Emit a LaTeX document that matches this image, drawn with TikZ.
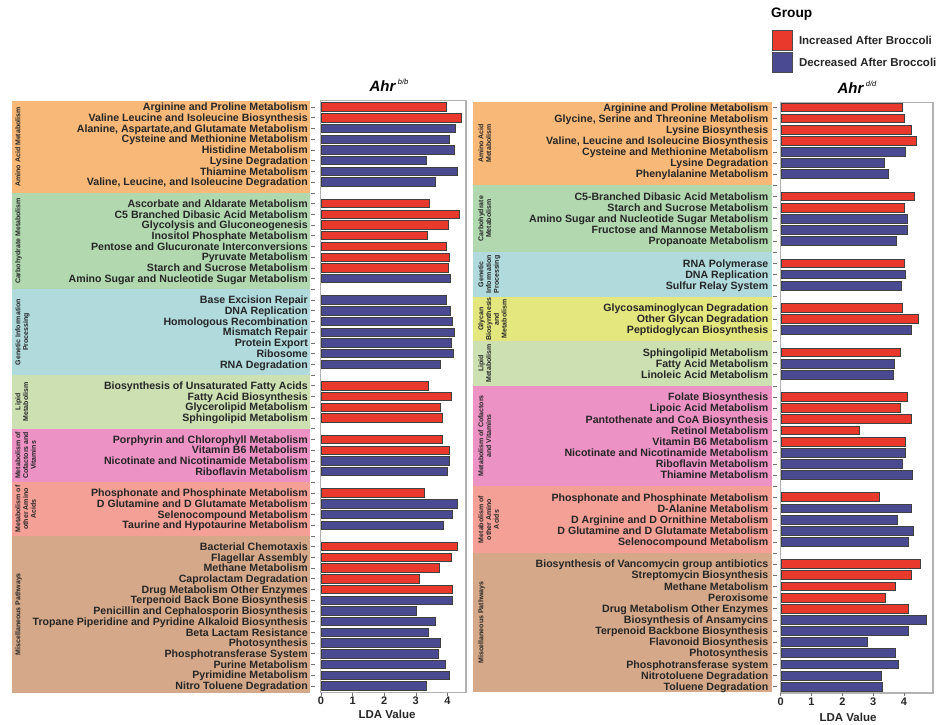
\documentclass[tikz,border=0pt]{standalone}
\usepackage{fontspec}
\setmainfont{Liberation Sans}
\usepackage{xcolor}
\usetikzlibrary{positioning}
\definecolor{incr}{HTML}{E8392C}
\definecolor{decr}{HTML}{4A4A92}
\definecolor{aminoC}{HTML}{F8B878}
\definecolor{carbC}{HTML}{B2D8B0}
\definecolor{geneC}{HTML}{B0DADC}
\definecolor{glycC}{HTML}{E4E67E}
\definecolor{lipidC}{HTML}{CCE0B2}
\definecolor{cofC}{HTML}{EC92C4}
\definecolor{otherC}{HTML}{F4A096}
\definecolor{miscC}{HTML}{D4A888}
\begin{document}
\begin{tikzpicture}[
  x=1pt,y=-1pt,
  every node/.style={inner sep=0pt},
  pathLabel/.style={anchor=base east,font=\bfseries\fontsize{10.6}{11}\selectfont,text=black!85},
  catLabel/.style={rotate=90,anchor=north,align=center,font=\bfseries\fontsize{7}{7.8}\selectfont,text=black!85},
  ldaBar/.style={draw=black!75,line width=0.7pt},
  plotFrame/.style={draw=black!30,line width=1.2pt},
  axisTick/.style={draw=black!55,line width=0.5pt},
  tickLabel/.style={anchor=base,font=\bfseries\fontsize{11}{11}\selectfont,text=black!85},
  axisTitle/.style={anchor=base,font=\bfseries\fontsize{11.5}{12}\selectfont,text=black!85},
  panelTitle/.style={anchor=base,font=\bfseries\itshape\fontsize{15}{15}\selectfont},
  legendBox/.style={draw=black!70,line width=0.8pt,minimum width=20,minimum height=19.5}]

  \useasboundingbox (0,0) rectangle (941,724);

  % legend
  \node[anchor=base west,font=\bfseries\fontsize{13.7}{14}\selectfont] (grp) at (771,17.3) {Group};
  \node[legendBox,fill=incr,anchor=north west] (swInc) at (772,30) {};
  \node[legendBox,fill=decr,anchor=north west] (swDec) at (772,52) {};
  \node[right=6pt of swInc,font=\bfseries\fontsize{11.5}{12}\selectfont,text=black!85] (lgInc) {Increased After Broccoli};
  \node[right=6pt of swDec,font=\bfseries\fontsize{11.5}{12}\selectfont,text=black!85] (lgDec) {Decreased After Broccoli};

  % left panel: category bands
  \foreach \a/\b/\col/\n/\txt in {101/192.8/aminoC/1/Amino Acid Metabolism,
      192.8/289.2/carbC/2/Carbohydrate Metabolism,
      289.2/375/geneC/3/{Genetic Information\\Processing},
      375/428.6/lipidC/4/{Lipid\\Metabolism},
      428.6/482.2/cofC/5/{Metabolism of\\Cofactors and\\Vitamins},
      482.2/535.8/otherC/6/{Metabolism of\\other Amino\\Acids},
      535.8/692.5/miscC/7/Miscellaneous Pathways}{
    \fill[fill=\col] (12,\a) rectangle (310,\b);
    \node[catLabel] (lc\n) at (15,{(\a+\b)/2}) {\txt};
  }
  \node[panelTitle] (ttlL) at (389,91) {Ahr\,\raisebox{6.5pt}{\fontsize{7.5}{8}\selectfont\mdseries\itshape b/b}};
  \draw[plotFrame] (320.5,100.5) rectangle (466,692.7);
  \foreach \r in {0,...,54}
    \draw[axisTick] (311,{107+\r*10.72}) -- (315,{107+\r*10.72});

  % left panel: bars
  \foreach \r/\v/\c/\t in {0/3.96/incr/Arginine and Proline Metabolism,
      1/4.43/incr/Valine Leucine and Isoleucine Biosynthesis,
      2/4.25/decr/{Alanine, Aspartate,and Glutamate Metabolism},
      3/4.07/decr/Cysteine and Methionine Metabolism,
      4/4.21/decr/Histidine Metabolism,
      5/3.34/decr/Lysine Degradation,
      6/4.30/decr/Thiamine Metabolism,
      7/3.62/decr/{Valine, Leucine, and Isoleucine Degradation},
      9/3.44/incr/Ascorbate and Aldarate Metabolism,
      10/4.38/incr/C5 Branched Dibasic Acid Metabolism,
      11/4.04/incr/Glycolysis and Gluconeogenesis,
      12/3.36/incr/Inositol Phosphate Metabolism,
      13/3.96/incr/Pentose and Glucuronate Interconversions,
      14/4.06/incr/Pyruvate Metabolism,
      15/4.04/incr/Starch and Sucrose Metabolism,
      16/4.10/decr/Amino Sugar and Nucleotide Sugar Metabolism,
      18/3.96/decr/Base Excision Repair,
      19/4.08/decr/DNA Replication,
      20/4.17/decr/Homologous Recombination,
      21/4.21/decr/Mismatch Repair,
      22/4.14/decr/Protein Export,
      23/4.19/decr/Ribosome,
      24/3.77/decr/RNA Degradation,
      26/3.41/incr/Biosynthesis of Unsaturated Fatty Acids,
      27/4.14/incr/Fatty Acid Biosynthesis,
      28/3.77/incr/Glycerolipid Metabolism,
      29/3.85/incr/Sphingolipid Metabolism,
      31/3.84/incr/Porphyrin and Chlorophyll Metabolism,
      32/4.06/incr/Vitamin B6 Metabolism,
      33/4.06/decr/Nicotinate and Nicotinamide Metabolism,
      34/4.01/decr/Riboflavin Metabolism,
      36/3.26/incr/Phosphonate and Phosphinate Metabolism,
      37/4.32/decr/D Glutamine and D Glutamate Metabolism,
      38/4.16/decr/Selenocompound Metabolism,
      39/3.88/decr/Taurine and Hypotaurine Metabolism,
      41/4.31/incr/Bacterial Chemotaxis,
      42/4.14/incr/Flagellar Assembly,
      43/3.76/incr/Methane Metabolism,
      44/3.12/incr/Caprolactam Degradation,
      45/4.16/incr/Drug Metabolism Other Enzymes,
      46/4.17/decr/Terpenoid Back Bone Biosynthesis,
      47/3.03/decr/Penicillin and Cephalosporin Biosynthesis,
      48/3.61/decr/Tropane Piperidine and Pyridine Alkaloid Biosynthesis,
      49/3.41/decr/Beta Lactam Resistance,
      50/3.79/decr/Photosynthesis,
      51/3.71/decr/Phosphotransferase System,
      52/3.92/decr/Purine Metabolism,
      53/4.06/decr/Pyrimidine Metabolism,
      54/3.32/decr/Nitro Toluene Degradation}{
    \pgfmathsetmacro\yy{107+\r*10.72}
    \node[pathLabel] (lp\r) at (308,\yy+3.8) {\t};
    \draw[ldaBar,fill=\c] (321.5,\yy-4.2) rectangle ({321+\v*31.6},\yy+4.2);
  }
  \foreach \k in {0,...,4}{
    \draw[axisTick] ({321+\k*31.6},692.7) -- ++(0,3);
    \node[tickLabel] (lx\k) at ({321+\k*31.6},704.5) {\k};
  }
  \node[axisTitle] (ldaL) at (387,718) {LDA Value};

  % right panel: category bands
  \foreach \a/\b/\col/\n/\txt in {101.7/185.3/aminoC/1/{Amino Acid\\Metabolism},
      185.3/252.1/carbC/2/{Carbohydrate\\Metabolism},
      252.1/296.7/geneC/3/{Genetic\\Information\\Processing},
      296.7/341.2/glycC/4/{Glycan\\Biosynthesis\\and\\Metabolism},
      341.2/385.8/lipidC/5/{Lipid\\Metabolism},
      385.8/486.1/cofC/6/{Metabolism of Cofactors\\and Vitamins},
      486.1/552.9/otherC/7/{Metabolism of\\other Amino\\Acids},
      552.9/692.3/miscC/8/Miscellaneous Pathways}{
    \fill[fill=\col] (473,\a) rectangle (771.7,\b);
    \node[catLabel] (rc\n) at (478,{(\a+\b)/2}) {\txt};
  }
  \node[panelTitle] (ttlR) at (857,93) {Ahr\,\raisebox{6.5pt}{\fontsize{7.5}{8}\selectfont\mdseries\itshape d/d}};
  \draw[plotFrame] (780.2,102.2) rectangle (933,693);
  \foreach \r in {0,...,52}
    \draw[axisTick] (773,{107.3+\r*11.14}) -- (777,{107.3+\r*11.14});

  % right panel: bars
  \foreach \r/\v/\c/\t in {0/3.95/incr/Arginine and Proline Metabolism,
      1/4.01/incr/{Glycine, Serine and Threonine Metabolism},
      2/4.24/incr/Lysine Biosynthesis,
      3/4.41/incr/{Valine, Leucine and Isoleucine Biosynthesis},
      4/4.06/decr/Cysteine and Methionine Metabolism,
      5/3.35/decr/Lysine Degradation,
      6/3.51/decr/Phenylalanine Metabolism,
      8/4.35/incr/C5-Branched Dibasic Acid Metabolism,
      9/4.03/incr/Starch and Sucrose Metabolism,
      10/4.10/decr/Amino Sugar and Nucleotide Sugar Metabolism,
      11/4.10/decr/Fructose and Mannose Metabolism,
      12/3.74/decr/Propanoate Metabolism,
      14/4.00/incr/RNA Polymerase,
      15/4.06/decr/DNA Replication,
      16/3.91/decr/Sulfur Relay System,
      18/3.96/incr/Glycosaminoglycan Degradation,
      19/4.48/incr/Other Glycan Degradation,
      20/4.25/decr/Peptidoglycan Biosynthesis,
      22/3.88/incr/Sphingolipid Metabolism,
      23/3.69/decr/Fatty Acid Metabolism,
      24/3.65/decr/Linoleic Acid Metabolism,
      26/4.12/incr/Folate Biosynthesis,
      27/3.90/incr/Lipoic Acid Metabolism,
      28/4.23/incr/Pantothenate and CoA Biosynthesis,
      29/2.55/incr/Retinol Metabolism,
      30/4.05/incr/Vitamin B6 Metabolism,
      31/4.04/decr/Nicotinate and Nicotinamide Metabolism,
      32/3.96/decr/Riboflavin Metabolism,
      33/4.29/decr/Thiamine Metabolism,
      35/3.21/incr/Phosphonate and Phosphinate Metabolism,
      36/4.23/decr/D-Alanine Metabolism,
      37/3.80/decr/D Arginine and D Ornithine Metabolism,
      38/4.31/decr/D Glutamine and D Glutamate Metabolism,
      39/4.14/decr/Selenocompound Metabolism,
      41/4.52/incr/Biosynthesis of Vancomycin group antibiotics,
      42/4.24/incr/Streptomycin Biosynthesis,
      43/3.73/incr/Methane Metabolism,
      44/3.41/incr/Peroxisome,
      45/4.14/incr/Drug Metabolism Other Enzymes,
      46/4.72/decr/Biosynthesis of Ansamycins,
      47/4.15/decr/Terpenoid Backbone Biosynthesis,
      48/2.81/decr/Flavonoid Biosynthesis,
      49/3.73/decr/Photosynthesis,
      50/3.81/decr/Phosphotransferase system,
      51/3.28/decr/Nitrotoluene Degradation,
      52/3.31/decr/Toluene Degradation}{
    \pgfmathsetmacro\yy{107.3+\r*11.14}
    \node[pathLabel] (rp\r) at (768.5,\yy+3.8) {\t};
    \draw[ldaBar,fill=\c] (781.2,\yy-4.4) rectangle ({780.7+\v*30.8},\yy+4.4);
  }
  \foreach \k in {0,...,4}{
    \draw[axisTick] ({780.7+\k*30.8},693) -- ++(0,3);
    \node[tickLabel] (rx\k) at ({780.7+\k*30.8},705.5) {\k};
  }
  \node[axisTitle] (ldaR) at (848,721.5) {LDA Value};
\end{tikzpicture}
\end{document}
